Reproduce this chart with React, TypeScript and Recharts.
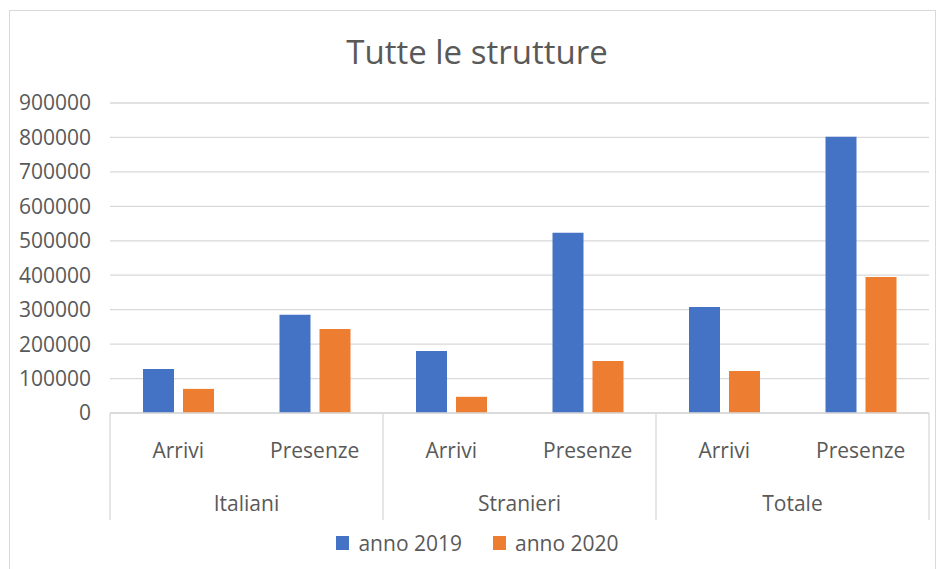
import { BarChart, Bar, XAxis, YAxis, CartesianGrid, Legend } from 'recharts';

const groups = ['Italiani', 'Italiani', 'Stranieri', 'Stranieri', 'Totale', 'Totale'];
const subs = ['Arrivi', 'Presenze', 'Arrivi', 'Presenze', 'Arrivi', 'Presenze'];
const anno2019 = [128000, 285000, 180000, 523000, 308000, 802000];
const anno2020 = [70000, 244000, 47000, 151000, 122000, 395000];
const yTicks = [0, 100000, 200000, 300000, 400000, 500000, 600000, 700000, 800000, 900000];

const data = subs.map((sub, i) => ({
  sub,
  group: groups[i],
  y2019: anno2019[i],
  y2020: anno2020[i],
}));

const FONT = '"Open Sans", sans-serif';
const TEXT = '#595959';
const LINE = '#d9d9d9';
const BLUE = '#4472C4';
const ORANGE = '#ED7D31';

function SubTick({ x, y, payload }: any) {
  return (
    <text x={x} y={y + 45} textAnchor="middle" fill={TEXT} fontSize={21} fontFamily={FONT}>
      {payload.value}
    </text>
  );
}

// group labels centred under each pair, with the separator lines at the band edges
function GroupTick({ x, y, payload, index, visibleTicksCount }: any) {
  const half = payload.offset ?? 136.5;
  const last = index === (visibleTicksCount ?? 3) - 1;
  return (
    <g>
      <line x1={x - half} x2={x - half} y1={y - 55} y2={y + 52} stroke={LINE} strokeWidth={1.3} />
      {last && <line x1={x + half} x2={x + half} y1={y - 55} y2={y + 52} stroke={LINE} strokeWidth={1.3} />}
      <text x={x} y={y + 43} textAnchor="middle" fill={TEXT} fontSize={21} fontFamily={FONT}>
        {payload.value}
      </text>
    </g>
  );
}

function LegendContent() {
  const items = [
    { label: 'anno 2019', color: BLUE },
    { label: 'anno 2020', color: ORANGE },
  ];
  return (
    <div
      style={{
        height: 49,
        boxSizing: 'border-box',
        display: 'flex',
        justifyContent: 'center',
        alignItems: 'center',
        gap: 31,
        paddingLeft: 26,
        paddingBottom: 4,
      }}
    >
      {items.map((it) => (
        <div key={it.label} style={{ display: 'flex', alignItems: 'center', gap: 9 }}>
          <span style={{ width: 13, height: 14, background: it.color, display: 'inline-block' }} />
          <span style={{ fontFamily: FONT, fontSize: 21, color: TEXT, lineHeight: '24px' }}>{it.label}</span>
        </div>
      ))}
    </div>
  );
}

export default function App() {
  return (
    <div style={{ position: 'absolute', left: 0, top: 0, width: 938, height: 569, background: '#fff', overflow: 'hidden' }}>
      <div
        style={{
          position: 'absolute',
          left: 9,
          top: 10,
          width: 927,
          height: 570,
          border: `1px solid ${LINE}`,
          boxSizing: 'border-box',
        }}
      />
      <div
        style={{
          position: 'absolute',
          left: 0,
          top: 28,
          width: 954,
          textAlign: 'center',
          fontFamily: FONT,
          fontSize: 33,
          color: TEXT,
          lineHeight: '48px',
        }}
      >
        Tutte le strutture
      </div>
      <BarChart
        width={938}
        height={569}
        data={data}
        margin={{ top: 103, right: 9, left: 0, bottom: 0 }}
        barSize={31}
        barGap={9}
      >
        <CartesianGrid vertical={false} stroke={LINE} strokeWidth={1.3} />
        <XAxis
          dataKey="sub"
          height={55}
          tickLine={false}
          tickSize={0}
          tickMargin={0}
          axisLine={{ stroke: LINE, strokeWidth: 1.3 }}
          tick={<SubTick />}
          interval={0}
        />
        <XAxis
          xAxisId="group"
          dataKey="group"
          allowDuplicatedCategory={false}
          height={52}
          tickLine={false}
          tickSize={0}
          tickMargin={0}
          axisLine={false}
          tick={<GroupTick />}
          interval={0}
        />
        <YAxis
          width={110}
          domain={[0, 900000]}
          ticks={yTicks}
          interval={0}
          tickLine={false}
          axisLine={false}
          tickSize={0}
          tickMargin={19}
          tick={{ fill: TEXT, fontSize: 21, fontFamily: FONT }}
        />
        <Legend verticalAlign="bottom" content={<LegendContent />} />
        <Bar dataKey="y2019" name="anno 2019" fill={BLUE} isAnimationActive={false} />
        <Bar dataKey="y2020" name="anno 2020" fill={ORANGE} isAnimationActive={false} />
      </BarChart>
    </div>
  );
}
